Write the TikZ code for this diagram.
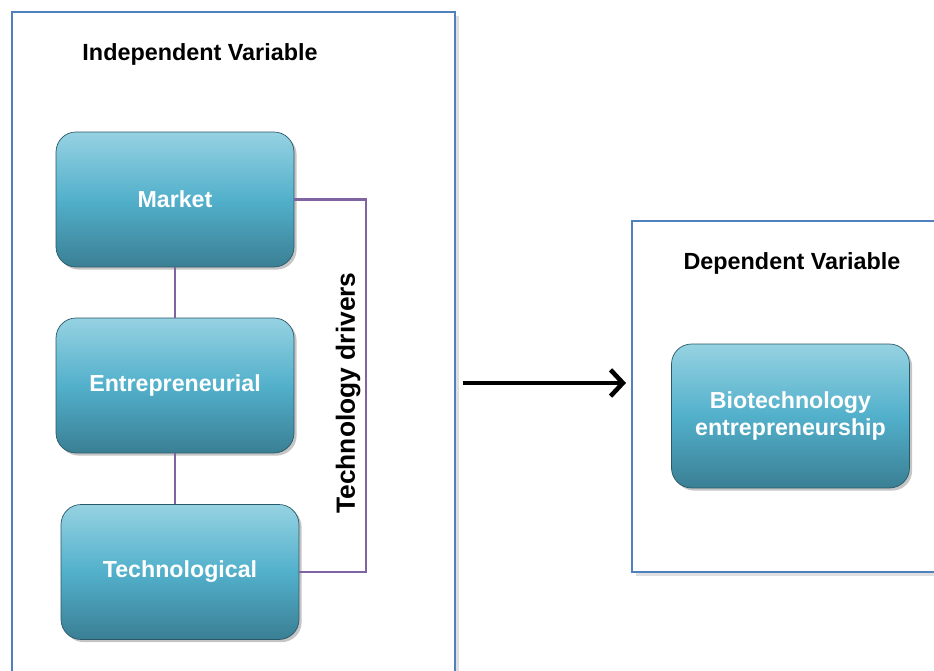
\documentclass[tikz,border=0pt]{standalone}
\usepackage{fontspec}
\setmainfont{Liberation Sans}
\usetikzlibrary{positioning,shadows,arrows.meta}
\definecolor{framecol}{HTML}{4F81BD}
\definecolor{linkcol}{HTML}{8064A2}
\definecolor{boxtop}{HTML}{96D2E2}
\definecolor{boxmid}{HTML}{52B0CB}
\definecolor{boxbot}{HTML}{3A7F94}
\begin{document}
\begin{tikzpicture}[x=0.02cm,y=-0.02cm,
    var node/.style={rounded corners=0.4cm,draw=boxbot!70!black,thin,
      top color=boxtop,bottom color=boxbot,middle color=boxmid,
      minimum width=4.76cm,minimum height=2.7cm,align=center,
      text=white,font=\fontsize{13.2}{15.5}\selectfont\bfseries,
      drop shadow={shadow xshift=1.5pt,shadow yshift=-1.5pt,opacity=0.45}},
    frame/.style={draw=framecol,thick,fill=white,
      drop shadow={shadow xshift=2pt,shadow yshift=-2pt,opacity=0.25}},
    title/.style={font=\fontsize{13.3}{15}\selectfont\bfseries},
    link/.style={draw=linkcol,line width=1.5pt}
  ]
  \useasboundingbox (0,0) rectangle (934,671);
  \clip (0,0) rectangle (934,671);

  % frames
  \draw[frame] (12,12) rectangle (455,700);
  \draw[frame] (632,221) rectangle (960,572);
  \node[title] (indep) at (200,54) {Independent Variable};
  \node[title] (dep) at (792,263) {Dependent Variable};

  \node[var node] (market) at (175,199.5) {Market};
  \node[var node] (entre) at (175,385.5) {Entrepreneurial};
  \node[var node] (techno) at (180,572) {Technological};
  \node[var node,minimum height=2.88cm] (biotech) at (790.5,416) {Biotechnology\\entrepreneurship};

  \coordinate (bracket) at (366,0);
  \path[link] (market) -- (entre)
    (entre.south) -- (entre.south |- techno.north)
    (market.east) -- (market.east -| bracket) |- (techno.east);
  \node[rotate=90,font=\fontsize{15}{18}\selectfont\bfseries] (drivers) at (348,393) {Technology drivers};

  \coordinate (arrstart) at (463,383);
  \coordinate (arrend) at (626,383);
  \draw[line width=2.6pt,-{Straight Barb[length=7pt,width=15pt]}] (arrstart) -- (arrend);
\end{tikzpicture}
\end{document}
